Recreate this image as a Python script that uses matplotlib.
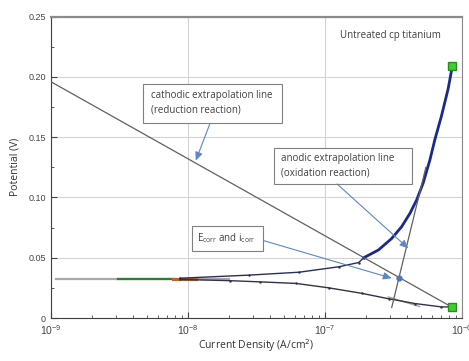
import numpy as np
import matplotlib.pyplot as plt
from matplotlib.patches import Rectangle
from matplotlib.ticker import LogLocator, MultipleLocator, FixedLocator

plt.rcParams['font.family'] = ['Open Sans', 'DejaVu Sans']

# anodic branch of the polarization curve
i_anodic = [8.75e-9, 2.81e-8, 6.48e-8, 1.26e-7, 1.76e-7, 1.92e-7, 2.46e-7, 3.07e-7,
            3.63e-7, 4.18e-7, 4.67e-7, 5.21e-7, 5.83e-7, 6.34e-7, 7.08e-7, 7.92e-7, 8.51e-7]
E_anodic = [0.033, 0.0356, 0.038, 0.0425, 0.046, 0.050, 0.0565, 0.066,
            0.0758, 0.087, 0.098, 0.112, 0.131, 0.148, 0.1675, 0.19, 0.209]

# cathodic branch
i_cathodic = [8.75e-9, 2.01e-8, 3.33e-8, 6.14e-8, 1.07e-7, 1.85e-7, 2.91e-7,
              4.54e-7, 7.08e-7, 8.3e-7]
E_cathodic = [0.032, 0.031, 0.030, 0.0287, 0.025, 0.0205, 0.016, 0.012, 0.0092, 0.0092]

# start of the scan (common part)
i_start_green = [3.06e-9, 7.78e-9]
i_start_orange = [7.78e-9, 1.14e-8]
E_start = [0.0322, 0.0322]

# fitted lines (grey)
i_fit_flat = [1.09e-9, 2.0e-8]
E_fit_flat = [0.032, 0.032]
i_fit_low = [2.9e-7, 4.9e-7]
E_fit_low = [0.0175, 0.0095]

# Tafel extrapolation lines
i_cath_line = [1e-9, 8.3e-7]
E_cath_line = [0.196, 0.0095]
i_anod_line = [3.07e-7, 5.45e-7]
E_anod_line = [0.0087, 0.125]

# end points and corrosion point
i_ends = [8.5e-7, 8.4e-7]
E_ends = [0.209, 0.0095]
i_corr = 3.47e-7
E_corr = 0.0333

fig = plt.figure(figsize=(4.69, 3.61), dpi=100)
ax = fig.add_axes([0.1087, 0.1191, 0.8763, 0.8346])

ax.plot(i_fit_flat, E_fit_flat, color='#a8a8a8', lw=1.6, zorder=2)
ax.plot(i_fit_low, E_fit_low, color='#a0a0a0', lw=1.0, zorder=2)
ax.plot(i_start_green, E_start, color='#2e7d32', lw=1.6, zorder=3)
ax.plot(i_start_orange, E_start, color='#c0622a', lw=2.2, zorder=3)
ax.plot(i_cathodic, E_cathodic, color='#333344', lw=1.0, marker='.', ms=1.5, zorder=3)
ax.plot(i_anodic[:6], E_anodic[:6], color='#2a2f5a', lw=1.0, marker='.', ms=1.5, zorder=3)
ax.plot(i_anodic[5:], E_anodic[5:], color='#1a2a8a', lw=2.0, zorder=3)

ax.plot(i_cath_line, E_cath_line, color='#606060', lw=0.9, zorder=4)
ax.plot(i_anod_line, E_anod_line, color='#606060', lw=0.9, zorder=4)

ax.plot(i_ends, E_ends, 's', color='#3ccf2f', mec='#2a8a20', ms=6, lw=0, zorder=5)
ax.plot([i_corr], [E_corr], 'o', color='#4a78c0', ms=3.5, zorder=5)

ax.set_xscale('log')
ax.set_xlim(1e-9, 1e-6)
ax.set_ylim(0, 0.25)
ax.xaxis.set_major_locator(LogLocator(base=10, numticks=10))
ax.xaxis.set_minor_locator(LogLocator(base=10, subs=np.arange(2, 10), numticks=10))
ax.yaxis.set_major_locator(FixedLocator([0, 0.05, 0.10, 0.15, 0.20, 0.25]))
ax.yaxis.set_minor_locator(MultipleLocator(0.025))
ax.set_yticklabels(['0', '0.05', '0.10', '0.15', '0.20', '0.25'])

ax.grid(True, which='major', color='#d4d4d4', lw=0.8)
ax.tick_params(which='both', direction='in', colors='#444444', labelsize=6.5)
ax.tick_params(axis='x', labelsize=7.5, pad=4)
ax.tick_params(which='major', length=4)
ax.tick_params(which='minor', length=2.5)
for lab in ax.get_xticklabels() + ax.get_yticklabels():
    lab.set_family('Liberation Sans')
for side in ['left', 'bottom']:
    ax.spines[side].set_color('#404040')
for side in ['top', 'right']:
    ax.spines[side].set_color('#8a8a8a')
ax.spines['top'].set_linewidth(1.6)

ax.set_xlabel('Current Density (A/cm$^2$)', fontsize=7.5, color='#333333', labelpad=0)
ax.set_ylabel('Potential (V)', fontsize=7.5, color='#333333', labelpad=6)

ax.text(0.703, 0.936, 'Untreated cp titanium', transform=ax.transAxes,
        fontsize=7, color='#404040', va='center', ha='left')

arrow = dict(arrowstyle='-|>,head_length=0.5,head_width=0.22', color='#5b87c8', lw=0.8,
             shrinkA=0, shrinkB=0)

# cathodic box
ax.add_patch(Rectangle((0.224, 0.647), 0.338, 0.130, transform=ax.transAxes,
                       fc='white', ec='#808080', lw=0.8, zorder=6))
ax.text(0.243, 0.737, 'cathodic extrapolation line', transform=ax.transAxes,
        fontsize=7, color='#404040', va='center', zorder=7)
ax.text(0.243, 0.690, '(reduction reaction)', transform=ax.transAxes,
        fontsize=7, color='#404040', va='center', zorder=7)
ax.annotate('', xy=(1.14e-8, 0.1306), xytext=(0.387, 0.646),
            textcoords='axes fraction', arrowprops=arrow, zorder=6)

# anodic box
ax.add_patch(Rectangle((0.543, 0.445), 0.335, 0.119, transform=ax.transAxes,
                       fc='white', ec='#808080', lw=0.8, zorder=6))
ax.text(0.560, 0.530, 'anodic extrapolation line', transform=ax.transAxes,
        fontsize=7, color='#404040', va='center', zorder=7)
ax.text(0.560, 0.480, '(oxidation reaction)', transform=ax.transAxes,
        fontsize=7, color='#404040', va='center', zorder=7)
ax.annotate('', xy=(4.06e-7, 0.0578), xytext=(0.696, 0.445),
            textcoords='axes fraction', arrowprops=arrow, zorder=6)

# Ecorr box
ax.add_patch(Rectangle((0.343, 0.222), 0.173, 0.083, transform=ax.transAxes,
                       fc='white', ec='#808080', lw=0.8, zorder=6))
ax.text(0.356, 0.264, r'E$_{\mathregular{corr}}$ and i$_{\mathregular{corr}}$',
        transform=ax.transAxes, fontsize=7, color='#404040', va='center', zorder=7)
ax.annotate('', xy=(3.07e-7, 0.033), xytext=(0.517, 0.257),
            textcoords='axes fraction', arrowprops=arrow, zorder=6)

fig.savefig('out.png', dpi=100)
